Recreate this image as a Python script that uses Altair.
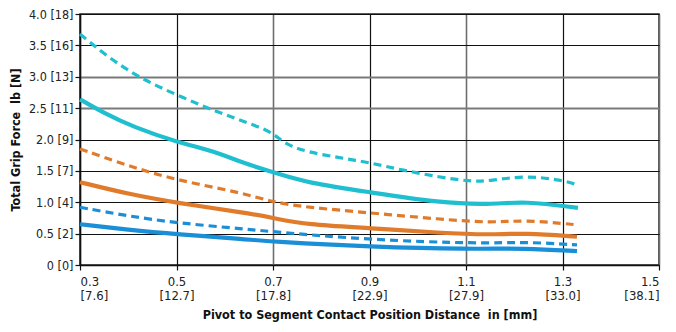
import altair as alt
import pandas as pd

# x positions (in) and force (lb) for each series
cyan_dash_x = [0.3, 0.36, 0.424, 0.5, 0.584, 0.632, 0.7, 0.721, 0.77, 0.839, 0.901, 0.969, 1.046, 1.108, 1.15, 1.222, 1.301, 1.33]
cyan_dash_y = [3.68, 3.30, 2.98, 2.71, 2.44, 2.31, 2.12, 1.94, 1.80, 1.71, 1.63, 1.51, 1.40, 1.33, 1.34, 1.43, 1.35, 1.28]

cyan_x = [0.3, 0.35, 0.41, 0.5, 0.584, 0.632, 0.7, 0.77, 0.901, 1.046, 1.15, 1.222, 1.332]
cyan_y = [2.64, 2.42, 2.20, 1.96, 1.80, 1.64, 1.48, 1.31, 1.16, 0.99, 0.96, 1.02, 0.91]

orange_dash_x = [0.3, 0.4, 0.5, 0.632, 0.7, 0.77, 0.901, 1.046, 1.15, 1.222, 1.33]
orange_dash_y = [1.85, 1.58, 1.35, 1.16, 1.00, 0.92, 0.83, 0.73, 0.67, 0.72, 0.64]

orange_x = [0.3, 0.4, 0.5, 0.646, 0.7, 0.77, 0.901, 1.046, 1.15, 1.222, 1.33]
orange_y = [1.32, 1.13, 0.99, 0.83, 0.75, 0.64, 0.59, 0.51, 0.48, 0.51, 0.45]

blue_dash_x = [0.3, 0.4, 0.5, 0.646, 0.7, 0.901, 1.13, 1.222, 1.33]
blue_dash_y = [0.92, 0.78, 0.67, 0.57, 0.53, 0.40, 0.34, 0.37, 0.32]

blue_x = [0.3, 0.4, 0.5, 0.646, 0.7, 0.901, 1.108, 1.222, 1.33]
blue_y = [0.65, 0.56, 0.49, 0.41, 0.37, 0.29, 0.25, 0.27, 0.22]

x_ticks = [0.3, 0.5, 0.7, 0.9, 1.1, 1.3, 1.5]
x_tick_in = ["0.3", "0.5", "0.7", "0.9", "1.1", "1.3", "1.5"]
x_tick_mm = ["[7.6]", "[12.7]", "[17.8]", "[22.9]", "[27.9]", "[33.0]", "[38.1]"]
y_ticks = [0, 0.5, 1.0, 1.5, 2.0, 2.5, 3.0, 3.5, 4.0]
y_tick_labels = ["0 [0]", "0.5 [2]", "1.0 [4]", "1.5 [7]", "2.0 [9]", "2.5 [11]", "3.0 [13]", "3.5 [16]", "4.0 [18]"]

series = [
    ("cyan_dash", cyan_dash_x, cyan_dash_y),
    ("cyan", cyan_x, cyan_y),
    ("orange_dash", orange_dash_x, orange_dash_y),
    ("orange", orange_x, orange_y),
    ("blue_dash", blue_dash_x, blue_dash_y),
    ("blue", blue_x, blue_y),
]
rows = []
for name, xs, ys in series:
    for a, b in zip(xs, ys):
        rows.append({"s": name, "x": a, "y": b})
df = pd.DataFrame(rows)

colors = {"cyan": "#1fbfd0", "orange": "#e07b2c", "blue": "#1a8fd8"}

xlab = "{" + ",".join(
    f"'{v:.1f}': ['{a}', '{b}']" for v, a, b in zip(x_ticks, x_tick_in, x_tick_mm)
) + "}"
ylab = "{" + ",".join(f"'{v:.1f}': '{l}'" for v, l in zip(y_ticks, y_tick_labels)) + "}"

FONT = "DejaVu Sans Condensed"

x_enc = alt.X(
    "x:Q",
    scale=alt.Scale(domain=[0.3, 1.5], nice=False, zero=False),
    axis=alt.Axis(
        values=x_ticks,
        labelExpr=f"{xlab}[format(datum.value, '.1f')]",
        labelPadding=5,
        labelFontSize=13,
        title="Pivot to Segment Contact Position Distance\u00a0 in [mm]",
        titlePadding=6,
        grid=True,
        gridColor={"condition": {"test": "datum.value == 0.7 || datum.value == 1.1 || datum.value == 1.5", "value": "#6e6e6e"}, "value": "#111111"},
        gridWidth={"condition": {"test": "datum.value == 0.7 || datum.value == 1.1 || datum.value == 1.5", "value": 1.6}, "value": 1.2},
    ),
)
y_enc = alt.Y(
    "y:Q",
    scale=alt.Scale(domain=[0, 4], nice=False),
    axis=alt.Axis(
        values=y_ticks,
        labelExpr=f"{ylab}[format(datum.value, '.1f')]",
        title="Total Grip Force\u00a0 lb [N]",
        titlePadding=6,
        grid=True,
        gridColor={"condition": {"test": "datum.value == 2.5 || datum.value == 3", "value": "#7a7a7a"}, "value": "#111111"},
        gridWidth={"condition": {"test": "datum.value == 2.5 || datum.value == 3", "value": 2.2}, "value": 1.2},
    ),
)

layers = []
for name, _, _ in series:
    base = name.split("_")[0]
    dashed = name.endswith("dash")
    mk = dict(color=colors[base], interpolate="basis", strokeCap="butt",
              strokeWidth=3.2 if dashed else 4.2)
    if dashed:
        mk["strokeDash"] = [8, 5]
    layers.append(
        alt.Chart(df).transform_filter(alt.datum.s == name).mark_line(**mk).encode(x=x_enc, y=y_enc)
    )

chart = alt.layer(*layers).properties(
    width=579, height=251,
    autosize=alt.AutoSizeParams(type="none"),
    padding={"left": 72, "top": 6, "right": 9, "bottom": 59},
).configure_view(
    stroke="#222222", strokeWidth=1.5
).configure_axis(
    labelFont=FONT, titleFont=FONT, labelFontSize=12.5, titleFontSize=12.5,
    labelColor="#222222", titleColor="#111111", titleFontWeight="bold",
    domainColor="#111111", domainWidth=1.5, tickColor="#111111", tickSize=5, tickWidth=1.2,
    labelPadding=2,
).configure_axisY(labelLineHeight=14).configure_axisX(labelLineHeight=14)

chart.save("out.html", embed_options={"renderer": "svg", "actions": False})
